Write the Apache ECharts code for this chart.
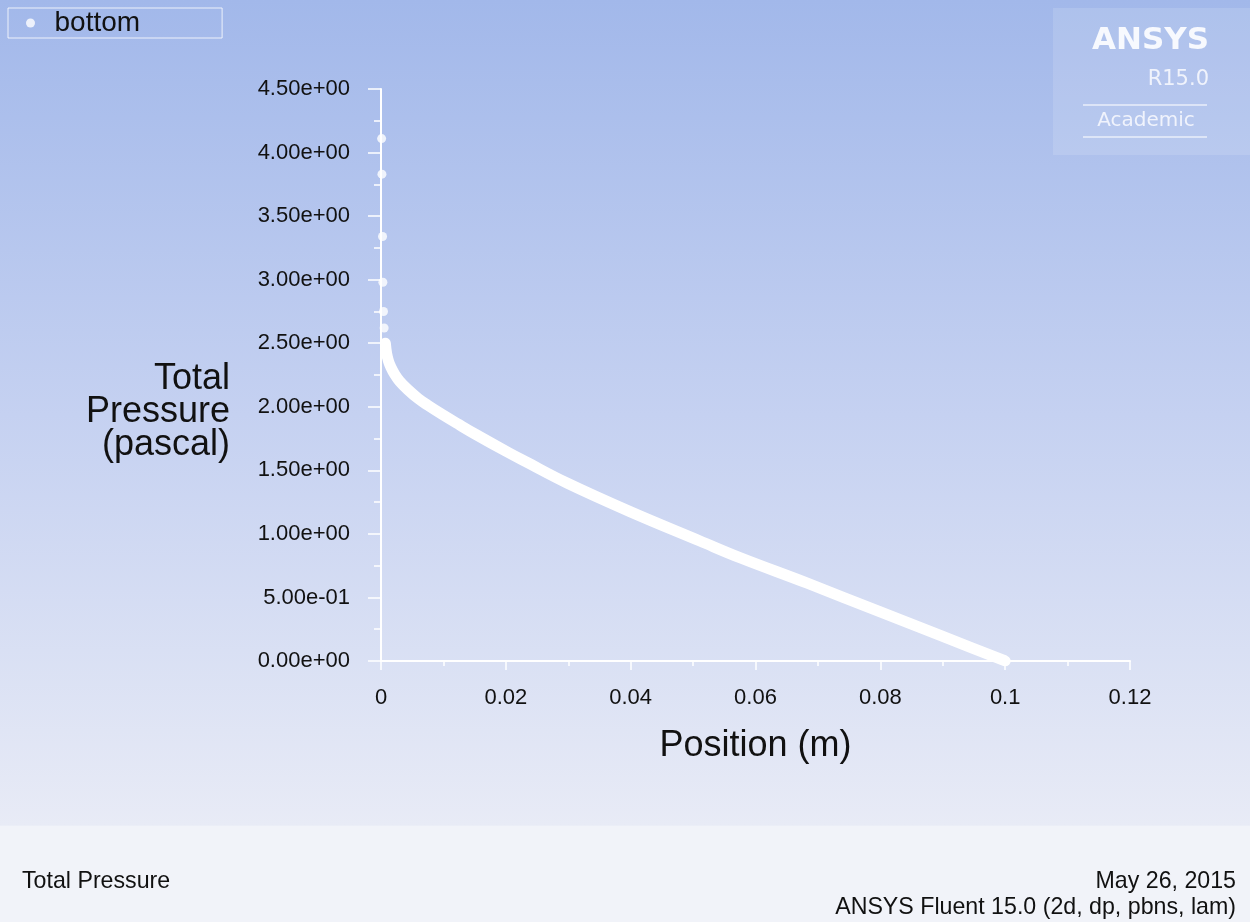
<!DOCTYPE html>
<html>
<head>
<meta charset="utf-8">
<title>Total Pressure</title>
<script src="https://cdn.jsdelivr.net/npm/echarts@6/dist/echarts.min.js"></script>
<style>
  html, body { margin: 0; padding: 0; }
  #chart { width: 1250px; height: 922px; }
</style>
</head>
<body>
<div id="chart"></div>
<script>
// Wall "bottom": total pressure (Pa) against position along the wall (m)

// Isolated samples right at the leading edge
const edgePosition = [0.0001, 0.00015, 0.00025, 0.0003, 0.0004, 0.0005];
const edgePressure = [4.11, 3.83, 3.34, 2.98, 2.75, 2.62];

// Densely sampled part of the wall, drawn as a continuous band
const wallPosition = [0.0007, 0.0009, 0.0012, 0.0016, 0.0022, 0.003, 0.0043, 0.006,
  0.0075, 0.0098, 0.0125, 0.0151, 0.0204, 0.0231, 0.0298, 0.0399, 0.0511, 0.0575,
  0.0683, 0.080, 0.0896, 0.0997, 0.1];
const wallPressure = [2.50, 2.42, 2.36, 2.31, 2.255, 2.20, 2.135, 2.063,
  2.012, 1.94, 1.86, 1.785, 1.64, 1.57, 1.40, 1.175, 0.944, 0.813,
  0.612, 0.386, 0.201, 0.006, 0.0];

// Axis ranges and tick steps
const xRange = [0, 0.12];
const xStep = 0.02;
const yRange = [0, 4.5];
const yStep = 0.5;

// Text
const seriesName = 'bottom';
const xTitle = 'Position (m)';
const yTitle = 'Total\nPressure\n(pascal)';
const footerLeft = 'Total Pressure';
const footerDate = 'May 26, 2015';
const footerSolver = 'ANSYS Fluent 15.0 (2d, dp, pbns, lam)';
const logoLines = ['ANSYS', 'R15.0', 'Academic'];

const SANS = 'Arial, "Liberation Sans", sans-serif';
const LOGO = '"DejaVu Sans", sans-serif';

function expLabel(v) {
  // 4.5 -> "4.50e+00", 0.5 -> "5.00e-01"
  const s = Number(v).toExponential(2);
  return s.replace(/e([+-])(\d)$/, 'e$10$2');
}

function fixedLabel(v) {
  return String(parseFloat(Number(v).toFixed(4)));
}

const edgeData = edgePosition.map((x, i) => [x, edgePressure[i]]);
const wallData = wallPosition.map((x, i) => [x, wallPressure[i]]);

const chart = echarts.init(document.getElementById('chart'), null, { renderer: 'canvas' });

chart.setOption({
  animation: false,
  backgroundColor: {
    type: 'linear', x: 0, y: 0, x2: 0, y2: 1,
    colorStops: [
      { offset: 0, color: '#a2b8ea' },
      { offset: 0.45, color: '#c5d1f1' },
      { offset: 0.895, color: '#e8ebf6' },
      { offset: 0.896, color: '#f1f3f9' },
      { offset: 1, color: '#f1f3f9' }
    ]
  },
  grid: { left: 381, right: 120, top: 89, bottom: 261, containLabel: false },
  legend: {
    data: [seriesName],
    left: 8,
    top: 8,
    orient: 'vertical',
    padding: [1, 82, 1, 18],
    borderColor: 'rgba(255,255,255,0.8)',
    borderWidth: 1,
    icon: 'circle',
    itemWidth: 38,
    itemHeight: 9,
    selectedMode: false,
    textStyle: { fontFamily: SANS, fontSize: 28, color: '#111', lineHeight: 27 }
  },
  xAxis: {
    type: 'value',
    min: xRange[0],
    max: xRange[1],
    interval: xStep,
    name: xTitle,
    nameLocation: 'middle',
    nameGap: 67,
    nameTextStyle: { fontFamily: SANS, fontSize: 36, color: '#111' },
    axisLine: { show: true, onZero: false, lineStyle: { color: '#ffffff', width: 2 } },
    axisTick: { show: true, length: 9, lineStyle: { color: '#ffffff', width: 1.5 } },
    minorTick: { show: true, splitNumber: 2, length: 5, lineStyle: { color: '#ffffff', width: 1.5 } },
    splitLine: { show: false },
    axisLabel: { fontFamily: SANS, fontSize: 22, color: '#111', margin: 26, formatter: fixedLabel }
  },
  yAxis: {
    type: 'value',
    min: yRange[0],
    max: yRange[1],
    interval: yStep,
    axisLine: { show: true, onZero: false, lineStyle: { color: '#ffffff', width: 2 } },
    axisTick: { show: true, length: 13, lineStyle: { color: '#ffffff', width: 1.5 } },
    minorTick: { show: true, splitNumber: 2, length: 7, lineStyle: { color: '#ffffff', width: 1.5 } },
    splitLine: { show: false },
    axisLabel: { fontFamily: SANS, fontSize: 22, color: '#111', margin: 31, formatter: expLabel,
                 padding: [3, 0, 0, 0] }
  },
  series: [
    {
      name: seriesName,
      type: 'scatter',
      data: edgeData,
      symbol: 'circle',
      symbolSize: 9,
      itemStyle: { color: '#ffffff' },
      z: 3
    },
    {
      name: seriesName,
      type: 'line',
      data: wallData,
      showSymbol: false,
      smooth: 0.4,
      itemStyle: { color: '#ffffff' },
      lineStyle: { color: '#ffffff', width: 11, cap: 'round', join: 'round' },
      z: 3
    }
  ],
  graphic: [
    // Vertical axis title, right-aligned beside the tick labels
    { type: 'text', x: 230, y: 412,
      style: { text: yTitle, fill: '#111', font: '36px ' + SANS, lineHeight: 33,
               align: 'right', verticalAlign: 'middle' }, silent: true },
    // Logo panel, upper right
    { type: 'rect', shape: { x: 1053, y: 8, width: 197, height: 147 },
      style: { fill: 'rgba(255,255,255,0.13)' }, silent: true },
    { type: 'text', x: 1209, y: 41,
      style: { text: logoLines[0], fill: '#f7f9fe', font: 'bold 31px ' + LOGO,
               align: 'right', verticalAlign: 'middle' }, silent: true },
    { type: 'text', x: 1209, y: 80,
      style: { text: logoLines[1], fill: '#f0f3fc', font: '21px ' + LOGO,
               align: 'right', verticalAlign: 'middle' }, silent: true },
    { type: 'line', shape: { x1: 1083, y1: 105, x2: 1207, y2: 105 },
      style: { stroke: 'rgba(255,255,255,0.7)', lineWidth: 1.5 }, silent: true },
    { type: 'text', x: 1146, y: 121,
      style: { text: logoLines[2], fill: '#f0f3fc', font: '20px ' + LOGO,
               align: 'center', verticalAlign: 'middle' }, silent: true },
    { type: 'line', shape: { x1: 1083, y1: 137, x2: 1207, y2: 137 },
      style: { stroke: 'rgba(255,255,255,0.7)', lineWidth: 1.5 }, silent: true },
    // Footer
    { type: 'text', x: 22, y: 882,
      style: { text: footerLeft, fill: '#111', font: '23.2px ' + SANS,
               align: 'left', verticalAlign: 'middle' }, silent: true },
    { type: 'text', x: 1236, y: 882,
      style: { text: footerDate, fill: '#111', font: '23.2px ' + SANS,
               align: 'right', verticalAlign: 'middle' }, silent: true },
    { type: 'text', x: 1236, y: 908,
      style: { text: footerSolver, fill: '#111', font: '23.2px ' + SANS,
               align: 'right', verticalAlign: 'middle' }, silent: true }
  ]
});
</script>
</body>
</html>
